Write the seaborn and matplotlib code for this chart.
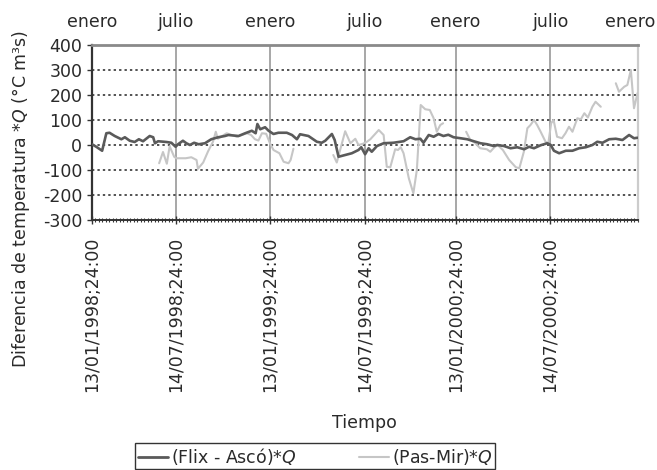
import numpy as np
import pandas as pd
import matplotlib
matplotlib.use("Agg")
import matplotlib.pyplot as plt
import seaborn as sns
from matplotlib.lines import Line2D
from matplotlib.ticker import MultipleLocator

# ---------------- data (x = weekly sample index, y = value) ----------------
flix_x = [0, 1.2, 2.9, 4.1, 5, 6.5, 8.4, 9.4, 10.8, 12.2, 13.4, 14.6, 16.5, 17.5, 18, 18.9,
          21.3, 22.7, 23.9, 24.6, 26, 27, 28, 29.2, 30.5, 32.3, 34.1, 36.1, 38, 39, 41.9,
          43.8, 45.7, 46.8, 47.3, 48.1, 49.5, 50.5, 51.9, 53.3, 55.7, 57.2, 58.6, 59.5,
          61.9, 64.3, 65.7, 66.7, 68.6, 69.4, 70.5, 72.4, 74.3, 76.2, 77, 78.1, 79.1, 80,
          81.5, 83.4, 86.2, 89.1, 91, 92.5, 93.9, 94.8, 96.3, 97.7, 99.1, 100.5, 101.9,
          103.4, 105.4, 107.3, 109.2, 111.1, 113, 114.9, 115.9, 117.8, 119.7, 121.6, 123.6,
          125, 126.4, 128.3, 130.2, 131.2, 132.1, 133.6, 135.5, 137.4, 139.3, 141.2, 143.1,
          144.5, 146, 147.9, 149.8, 151.7, 153.6, 155, 156]
flix_y = [3, -7, -23, 47, 49, 36, 23, 31, 17, 12, 23, 15, 36, 31, 7, 15,
          12, 9, -7, 3, 17, 7, 0, 9, 3, 7, 23, 31, 36, 40, 36,
          47, 57, 47, 84, 63, 71, 57, 44, 49, 49, 40, 23, 43,
          36, 13, 9, 17, 44, 20, -47, -40, -33, -20, -9, -37, -13, -27,
          -4, 7, 9, 15, 31, 23, 25, 9, 40, 33, 44, 36, 41,
          31, 27, 23, 15, 7, 3, -4, 0, -4, -13, -9, -17,
          -7, -13, -1, 7, 0, -23, -33, -23, -23, -13, -9, 0,
          13, 9, 23, 25, 20, 40, 27, 29]

pas_x = [19.2, 20.3, 21.4, 22.2, 23.5, 24.1, 26.8, 28.4, 29.9, 30.3, 31.8, 33.2, 34.6, 35.4,
         36, 38.5, 41.4, 44.3, 45.5, 46.6, 47.6, 48.6, 49.8, 50.9, 51.9, 53.6, 54.8, 56.2,
         56.8, 57.6,
         69, 70, 72.4, 73.9, 75.3, 76.2, 77.5, 78.5, 79.6, 82, 83.4, 84.3, 85.3, 86.7, 87.5,
         88.3, 89.1, 90.6, 91.9, 92.9, 94, 95.3, 96.6, 97.7, 98.6, 99.6, 100.4,
         107, 108.2, 109.5, 111, 112.9, 113.9, 115, 116, 117.5, 119.3, 121.2, 122.2, 123.5,
         124.5, 125.4, 126.4, 127.3, 128.3, 129.7, 130.5, 131.3, 132, 133, 134.4, 135.4,
         136.4, 137.4, 138.8, 139.8, 140.8, 141.8, 143.1, 144, 145.5,
         149.8, 150.7, 152.2, 153.1, 154.1, 155, 156]
pas_y = [-73, -28, -75, -5, -47, -53, -53, -49, -60, -95, -70, -25, 13, 53,
         25, 47, 33, 47, 40, 23, 18, 47, 45, 7, -20, -33, -67, -73,
         -60, -15,
         -40, -70, 55, 7, 25, 0, 5, 12, 23, 60, 40, -87, -89, -17, -20,
         -9, -33, -133, -193, -100, 160, 143, 140, 107, 53, 80, 87,
         53, 20, 9, -13, -17, -27, -10, 0, -20, -60, -89, -93, -27,
         67, 80, 100, 80, 53, 13, 7, 87, 100, 33, 27, 47,
         73, 53, 107, 103, 127, 110, 153, 173, 153,
         247, 213, 233, 240, 300, 147, 207]
pas_seg = [1] * 30 + [2] * 27 + [3] * 34 + [4] * 7

bottom_tick_pos = [0, 24, 51, 78, 104, 131]
bottom_labels = ["13/01/1998;24:00", "14/07/1998;24:00", "13/01/1999;24:00",
                 "14/07/1999;24:00", "13/01/2000;24:00", "14/07/2000;24:00"]
top_tick_pos = [0, 24, 51, 78, 104, 131, 156]
top_labels = ["enero", "julio", "enero", "julio", "enero", "julio", "enero"]
y_ticks = [-300, -200, -100, 0, 100, 200, 300, 400]

series_names = [r"(Flix - Ascó)*$Q$", r"(Pas-Mir)*$Q$"]

# ---------------- styling ----------------
sns.set_style("white")
plt.rcParams["font.family"] = ["DejaVu Sans"]
plt.rcParams["mathtext.fontset"] = "dejavusans"
FS = 12.5
TXT = "#2a2a2a"
DARK = "#5a5a5a"
LIGHT = "#c6c6c6"

df_flix = pd.DataFrame({"x": flix_x, "y": flix_y})
df_pas = pd.DataFrame({"x": pas_x, "y": pas_y, "seg": pas_seg})

fig = plt.figure(figsize=(6.57, 4.70), dpi=100)
ax = fig.add_axes([92 / 657, 1 - 220 / 470, (637.5 - 92) / 657, 175 / 470])

sns.lineplot(data=df_pas, x="x", y="y", units="seg", estimator=None, sort=False,
             color=LIGHT, linewidth=1.5, ax=ax, legend=False, zorder=3)
sns.lineplot(data=df_flix, x="x", y="y", estimator=None, sort=False,
             color=DARK, linewidth=1.9, ax=ax, legend=False, zorder=4)

ax.set_xlim(0, 156)
ax.set_ylim(-300, 400)
ax.set_xlabel("")
ax.set_ylabel("")

# y axis
ax.set_yticks(y_ticks)
ax.set_yticklabels([str(v) for v in y_ticks])
ax.tick_params(axis="y", which="major", direction="out", length=3.5, width=1,
               color="#333333", labelsize=FS, labelcolor=TXT, pad=3.5, left=True)

# horizontal dotted grid
for v in y_ticks[1:-1]:
    ax.axhline(v, color="#444444", linestyle=(0, (1.3, 1.7)), linewidth=1.3, zorder=1)

# bottom x axis
ax.set_xticks(bottom_tick_pos)
ax.set_xticklabels(bottom_labels, rotation=90)
ax.xaxis.set_minor_locator(MultipleLocator(1))
ax.tick_params(axis="x", which="major", direction="inout", length=6, width=1,
               color="#333333", labelsize=FS, labelcolor=TXT, pad=9, bottom=True)
ax.tick_params(axis="x", which="minor", direction="inout", length=3.5, width=0.8,
               color="#333333", bottom=True)
ax.xaxis.grid(True, which="major", color="#a0a0a0", linewidth=1.3, zorder=1)
ax.set_axisbelow(True)

# top month labels (last one pulled inside the figure, as in the reference)
for i, (pos, lab) in enumerate(zip(top_tick_pos, top_labels)):
    dx = -5.4 if i == len(top_labels) - 1 else 0
    ax.annotate(lab, xy=(pos, 1), xycoords=("data", "axes fraction"),
                xytext=(dx, 13), textcoords="offset points", ha="center",
                va="baseline", fontsize=FS, color=TXT, annotation_clip=False)

# spines
ax.spines["left"].set_color("#333333")
ax.spines["left"].set_linewidth(1.6)
ax.spines["bottom"].set_color("#333333")
ax.spines["bottom"].set_linewidth(1.4)
ax.spines["top"].set_color("#8a8a8a")
ax.spines["top"].set_linewidth(2.0)
ax.spines["right"].set_color("#cccccc")
ax.spines["right"].set_linewidth(1.6)
for s in ax.spines.values():
    s.set_visible(True)

# axis titles
fig.text(21.5 / 657, 1 - 199 / 470, r"Diferencia de temperatura *$Q$ (°C m³s)",
         rotation=90, ha="center", va="center", fontsize=FS, color=TXT)
fig.text(364.5 / 657, 1 - 423 / 470, "Tiempo", ha="center", va="center",
         fontsize=FS, color=TXT)

# legend
handles = [Line2D([], [], color=DARK, linewidth=2.0),
           Line2D([], [], color=LIGHT, linewidth=1.5)]
leg = fig.legend(handles, series_names, loc="upper left",
                 bbox_to_anchor=(135 / 657, 1 - 443 / 470), ncol=2, frameon=True,
                 fancybox=False, edgecolor="#333333", framealpha=1, fontsize=FS,
                 handlelength=1.75, handletextpad=0.15, columnspacing=3.6,
                 borderpad=0.15, borderaxespad=0)
leg.get_frame().set_linewidth(1.0)
for t in leg.get_texts():
    t.set_color(TXT)

fig.savefig("out.png", dpi=100, facecolor="white")
